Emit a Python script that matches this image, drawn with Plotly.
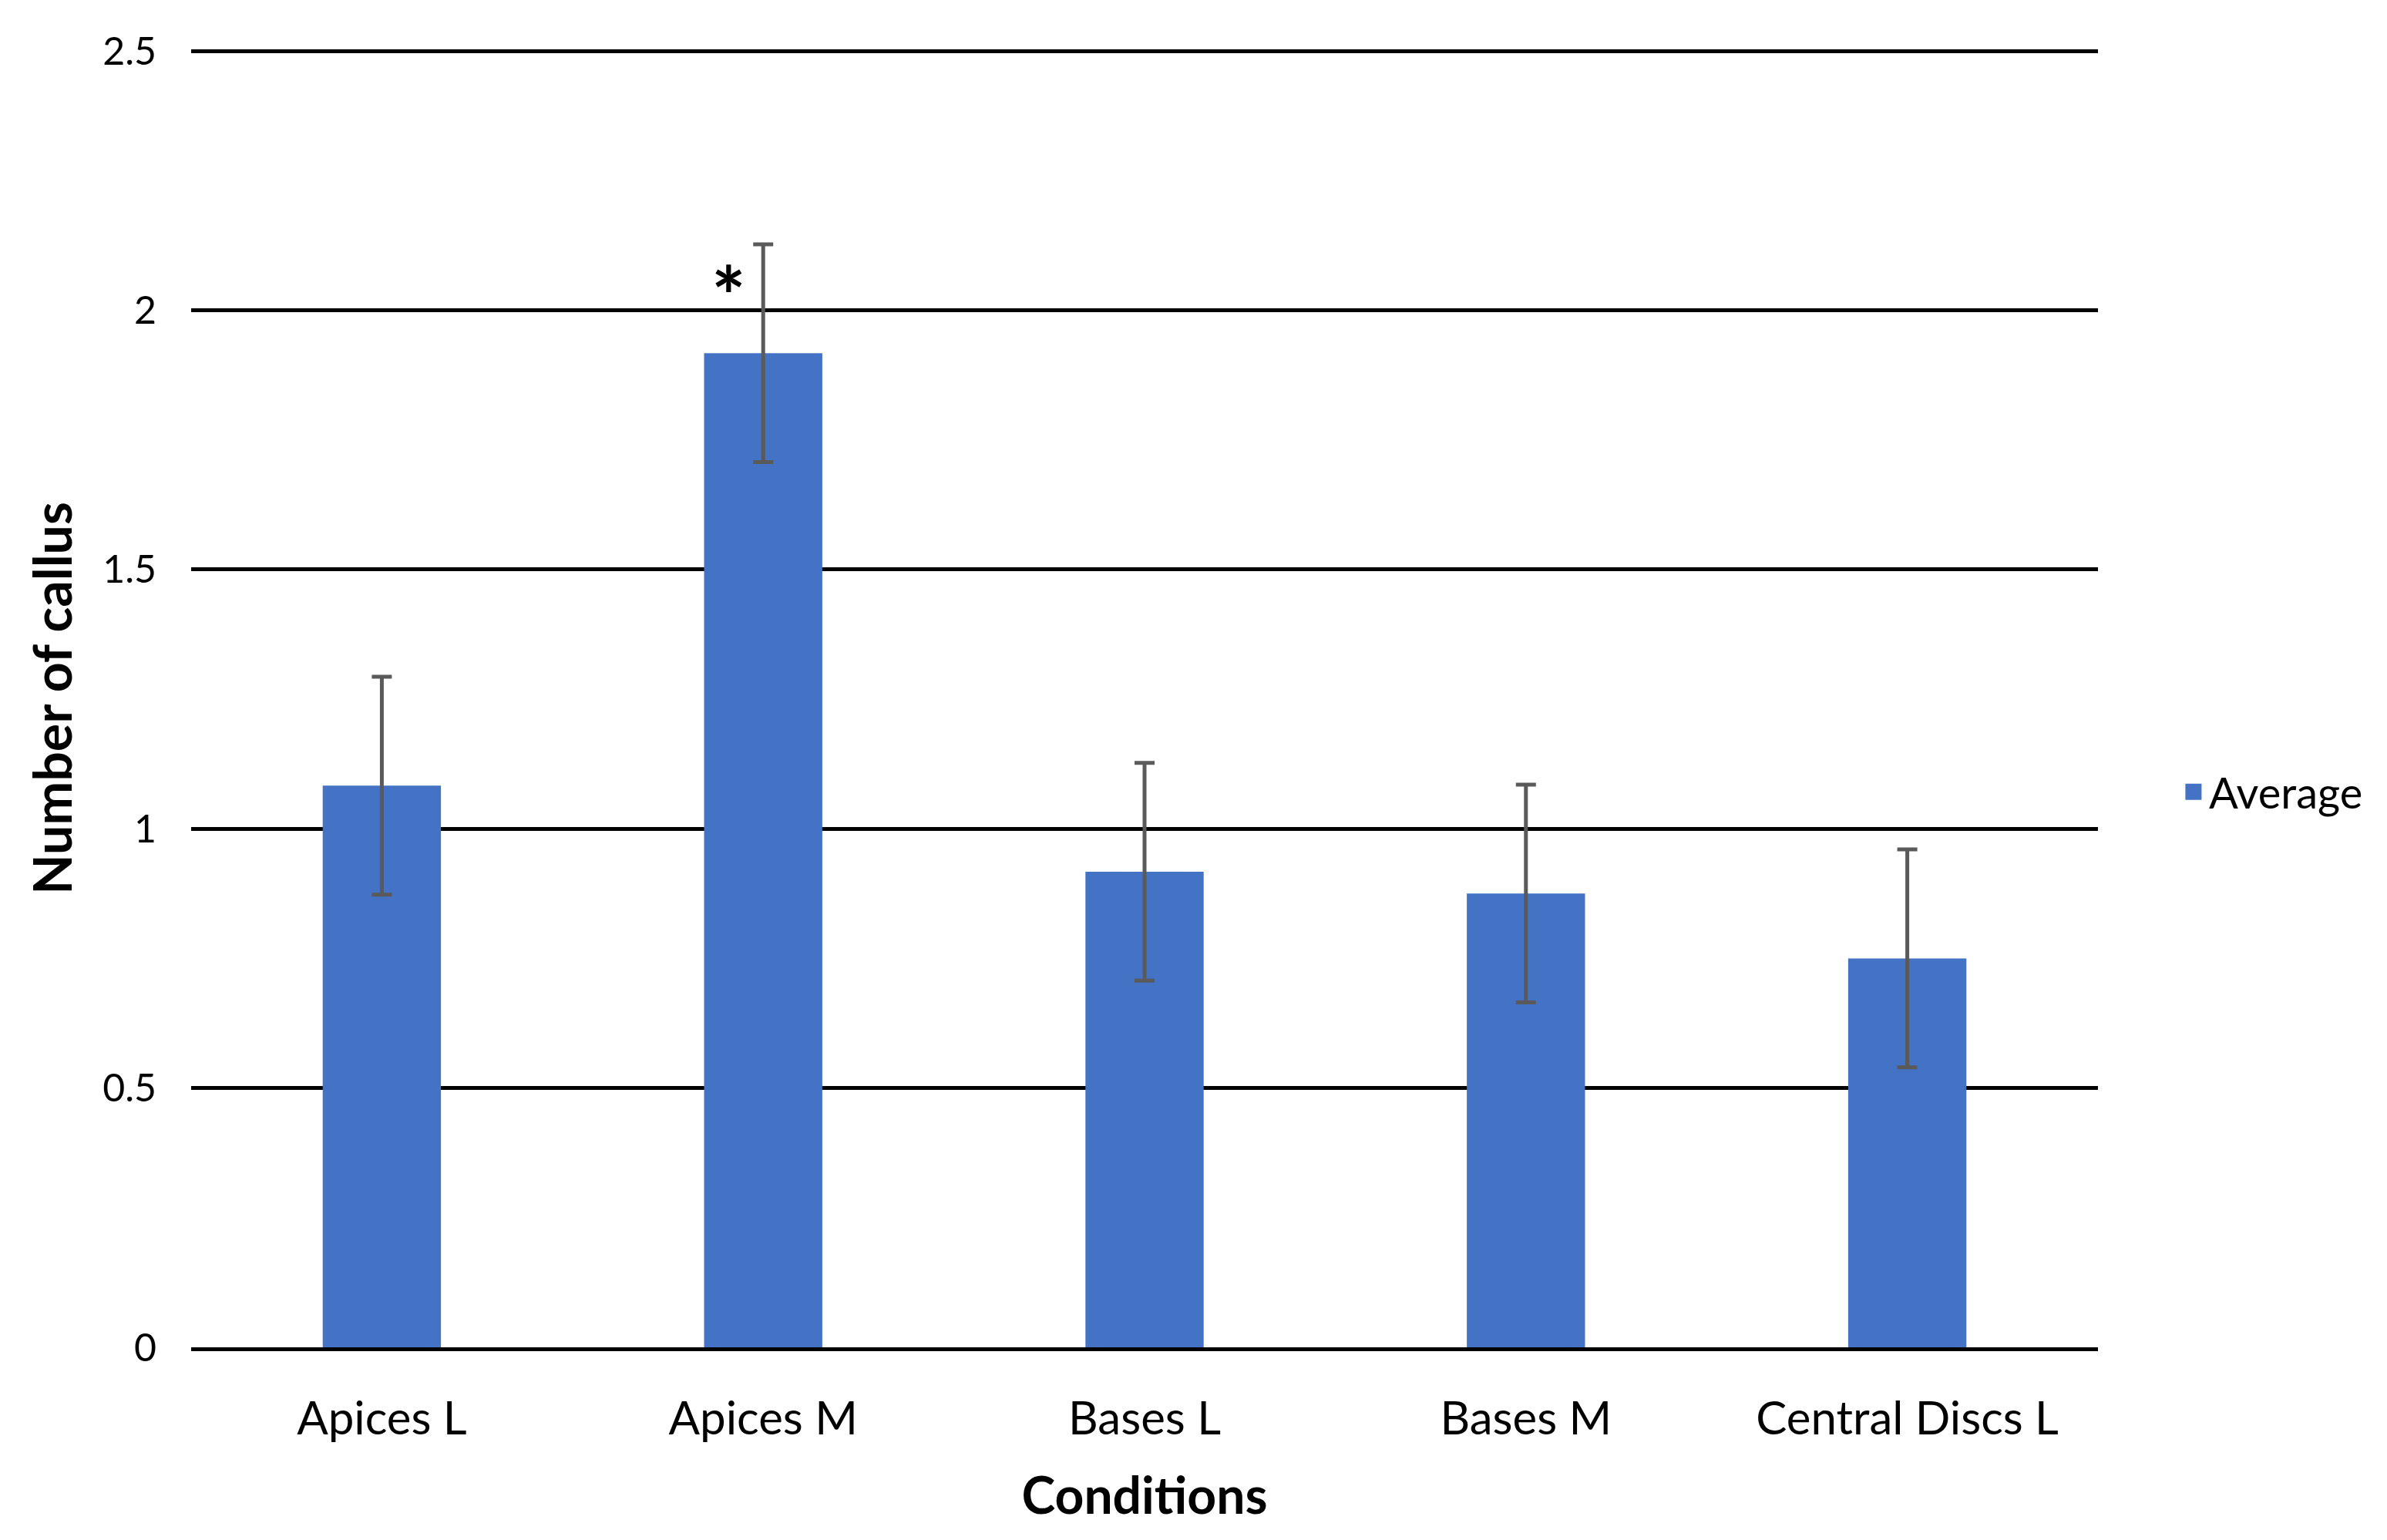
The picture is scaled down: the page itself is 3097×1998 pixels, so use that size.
import plotly.graph_objects as go

categories = ["Apices L", "Apices M", "Bases L", "Bases M", "Central Discs L"]
averages = [1.083, 1.917, 0.917, 0.875, 0.750]
errors = [0.21, 0.21, 0.21, 0.21, 0.21]
y_ticks = [0, 0.5, 1, 1.5, 2, 2.5]
y_tick_labels = ["0", "0.5", "1", "1.5", "2", "2.5"]
series_name = "Average"
sig_category = "Apices M"
sig_y = 2.03

BAR_COLOR = "#4472C4"
FONT = "Lato, Carlito, Open Sans, sans-serif"

fig = go.Figure()
fig.add_trace(go.Bar(
    x=categories, y=averages, name=series_name, showlegend=False,
    marker=dict(color=BAR_COLOR, line=dict(width=0)),
    error_y=dict(type="data", array=errors, visible=True,
                 color="#5a5a5a", thickness=5, width=13),
))
# legend entry (larger square symbol)
fig.add_trace(go.Scatter(
    x=[None], y=[None], mode="markers", name=series_name,
    marker=dict(symbol="square", size=16, color=BAR_COLOR,
                line=dict(color=BAR_COLOR, width=5)),
))

fig.add_annotation(x=sig_category, y=sig_y, text="<b>*</b>", showarrow=False,
                   xshift=-45, font=dict(size=105, color="black", family=FONT))

fig.update_layout(
    width=3089, height=1990,
    margin=dict(l=240, r=375, t=56, b=250),
    paper_bgcolor="white", plot_bgcolor="white",
    bargap=0.69,
    font=dict(family=FONT, color="black", size=48),
    legend=dict(x=1.042, xanchor="left", y=0.428, yanchor="middle",
                font=dict(size=56, color="black"), itemsizing="trace"),
    xaxis=dict(
        title=dict(text="<b>Conditions</b>", font=dict(size=66), standoff=46),
        showline=True, linecolor="black", linewidth=5,
        showgrid=False, ticks="", ticklabelstandoff=36,
        tickfont=dict(size=60),
    ),
    yaxis=dict(
        title=dict(text="<b>Number of callus</b>", font=dict(size=68), standoff=17),
        range=[0, 2.503], tickvals=y_ticks, ticktext=y_tick_labels,
        showgrid=True, gridcolor="black", gridwidth=5,
        zeroline=False, showline=False, ticks="", ticklabelstandoff=44,
        tickfont=dict(size=50),
    ),
)

fig.write_html("out.html")
